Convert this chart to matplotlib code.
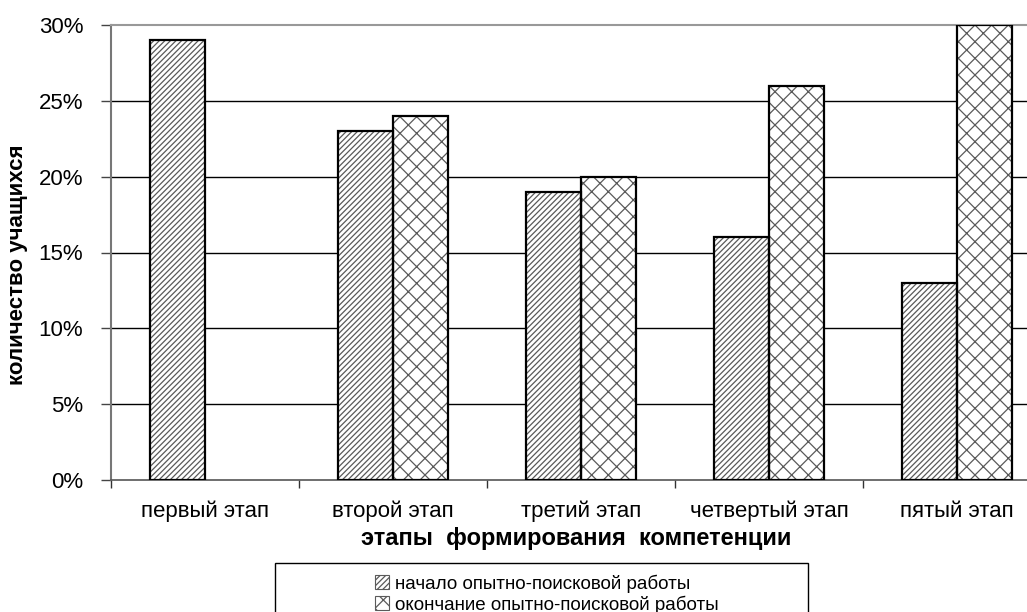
import matplotlib
matplotlib.use("Agg")
import matplotlib.pyplot as plt
from matplotlib.patches import Rectangle, Patch
from matplotlib.ticker import FixedLocator, FuncFormatter
import numpy as np

plt.rcParams['font.family'] = ['Liberation Sans', 'DejaVu Sans']

categories = ["первый этап", "второй этап", "третий этап", "четвертый этап", "пятый этап"]
series_names = ["начало опытно-поисковой работы", "окончание опытно-поисковой работы"]
start_values = [29, 23, 19, 16, 13]
end_values = [0, 24, 20, 26, 30]
y_ticks = [0, 5, 10, 15, 20, 25, 30]

W, H = 1027, 612
fig = plt.figure(figsize=(W / 100, H / 100), dpi=100)
ax = fig.add_axes([111 / W, 1 - 480 / H, 940 / W, 455 / H])

x = np.arange(len(categories))
bw = 0.293
hatch_col = '#5a5a5a'
plt.rcParams['hatch.linewidth'] = 0.9

# hatch layers
ax.bar(x - bw / 2, start_values, bw, facecolor='white', edgecolor=hatch_col,
       hatch='//////', linewidth=0, zorder=3)
ax.bar(x + bw / 2, end_values, bw, facecolor='white', edgecolor=hatch_col,
       hatch='xx', linewidth=0, zorder=3)
# outlines
ax.bar(x - bw / 2, start_values, bw, fill=False, edgecolor='black', linewidth=1.6, zorder=4)
ax.bar(x + bw / 2, [v if v > 0 else np.nan for v in end_values], bw, fill=False,
       edgecolor='black', linewidth=1.6, zorder=4)

ax.set_xlim(-0.5, len(categories) - 0.5)
ax.set_ylim(0, 30)
ax.set_yticks(y_ticks)
ax.yaxis.set_major_formatter(FuncFormatter(lambda v, p: f"{int(v)}%"))
for t in y_ticks[1:-1]:
    ax.axhline(t, color='black', linewidth=1.0, zorder=1)

ax.set_xticks(x)
ax.set_xticklabels(categories)
ax.xaxis.set_minor_locator(FixedLocator(np.arange(len(categories) + 1) - 0.5))
ax.tick_params(axis='x', which='major', length=0, pad=15, labelsize=16)
ax.tick_params(axis='x', which='minor', length=6, width=1.0, color='#333333', direction='out')
ax.tick_params(axis='y', length=7, width=1.0, color='#444444', pad=13, labelsize=16)

ax.spines['right'].set_visible(False)
ax.spines['top'].set_color('#999999')
ax.spines['top'].set_linewidth(1.5)
ax.spines['left'].set_color('#777777')
ax.spines['left'].set_linewidth(1.5)
ax.spines['bottom'].set_color('#555555')
ax.spines['bottom'].set_linewidth(1.2)

fig.text(576 / W, 1 - 538 / H, "этапы  формирования  компетенции", fontsize=17,
         fontweight='bold', ha='center', va='center')
fig.text(18 / W, 1 - 265 / H, "количество учащихся", rotation=90, fontsize=16,
         fontweight='bold', ha='center', va='center')

# legend box
fig.patches.append(Rectangle((275 / W, -0.02), (808 - 275) / W, (612 - 563) / H + 0.02,
                             transform=fig.transFigure, fill=False, edgecolor='black',
                             linewidth=1.0))
handles = [Patch(facecolor='white', edgecolor=hatch_col, hatch='//////', linewidth=0.8),
           Patch(facecolor='white', edgecolor=hatch_col, hatch='xx', linewidth=0.8)]
fig.legend(handles, series_names, loc='upper left', bbox_to_anchor=(366 / W, 1 - 565 / H),
           frameon=False, fontsize=13.5, handlelength=0.75, handleheight=0.75,
           handletextpad=0.3, labelspacing=0.15, borderpad=0.0)

fig.savefig("out.png", dpi=100)
